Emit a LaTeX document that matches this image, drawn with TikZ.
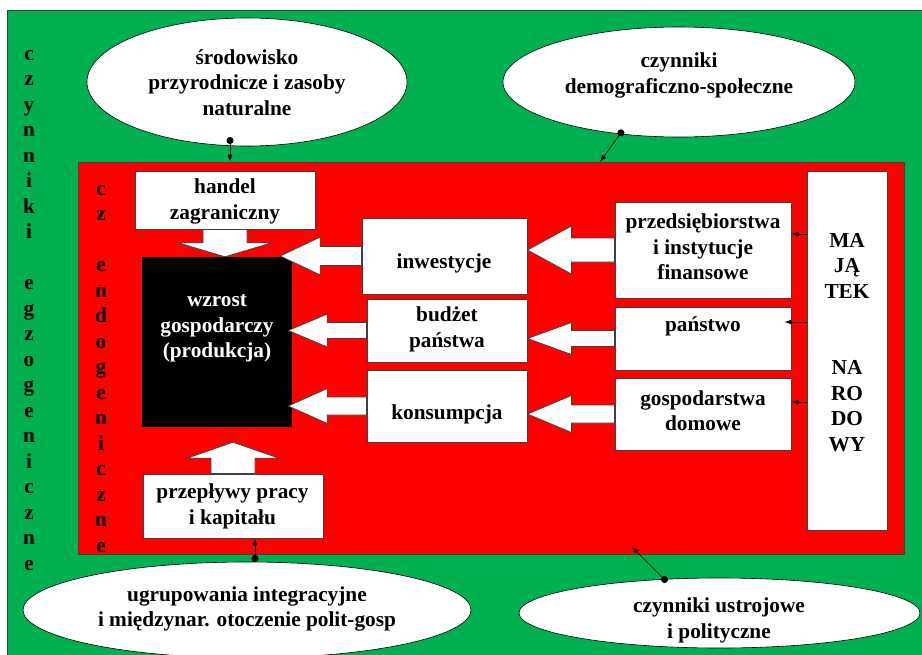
\documentclass[tikz,border=0pt]{standalone}
\usepackage{fontspec}
\setmainfont{Liberation Serif}
\usetikzlibrary{shapes.geometric,arrows.meta,calc}
\definecolor{exogreen}{RGB}{0,176,80}
\definecolor{endored}{RGB}{255,0,0}
\definecolor{edgegray}{RGB}{64,64,64}
\pgfdeclarelayer{back}
\pgfdeclarelayer{mid}
\pgfsetlayers{back,mid,main}
\newcommand\fsz{\fontsize{21.3}{25.5}\selectfont\bfseries}
% #1 start, #2 tip, #3 shaft half width, #4 head half width, #5 head length (canvas, signed)
\newcommand\myHarrow[5]{\draw[blockarrow] let \p1=(#1), \p2=(#2) in
  (\x1,\y1+#3pt) -- (\x2+#5pt,\y1+#3pt) -- (\x2+#5pt,\y1+#4pt) -- (\x2,\y1)
  -- (\x2+#5pt,\y1-#4pt) -- (\x2+#5pt,\y1-#3pt) -- (\x1,\y1-#3pt) -- cycle;}
\newcommand\myVarrow[5]{\draw[blockarrow] let \p1=(#1), \p2=(#2) in
  (\x1+#3pt,\y1) -- (\x1+#3pt,\y2+#5pt) -- (\x1+#4pt,\y2+#5pt) -- (\x1,\y2)
  -- (\x1-#4pt,\y2+#5pt) -- (\x1-#3pt,\y2+#5pt) -- (\x1-#3pt,\y1) -- cycle;}
\begin{document}
\begin{tikzpicture}[x=1pt,y=-1pt,
  txt/.style={font=\fsz, align=center, inner sep=0pt},
  wbox/.style={draw=edgegray, fill=white, line width=0.8pt, inner sep=0pt},
  oval/.style={ellipse, draw=black, fill=white, line width=0.6pt, inner sep=0pt},
  blockarrow/.style={draw=edgegray, fill=white, line width=0.8pt, line join=miter},
  conn/.style={line width=0.7pt, {Circle[length=7pt]}-{Latex[length=7pt,width=5pt]}},
  conn2/.style={line width=0.7pt, -{Latex[length=7pt,width=5pt]}}]

\useasboundingbox (0,0) rectangle (922,654);

\begin{pgfonlayer}{back}
\fill[white] (0,0) rectangle (922,654);
\node[fill=exogreen, draw=edgegray, line width=0.8pt, minimum width=923pt, minimum height=650pt, inner sep=0pt] (exo) at (468.5,335) {};
\node[fill=endored, draw=edgegray, line width=0.8pt, minimum width=826pt, minimum height=392pt, inner sep=0pt] (endo) at (491,358) {};
\node[fill=black, minimum width=150pt, minimum height=170pt, inner sep=0pt] (growth) at (217,342) {};
\end{pgfonlayer}

% vertical side labels
\node[txt, anchor=north] (exoT) at (29,50) {c\\z\\y\\n\\n\\i\\k\\i\\\mbox{}\\e\\g\\z\\o\\g\\e\\n\\i\\c\\z\\n\\e};
\node[txt, anchor=north] (endoT) at (101,185) {c\\z\\\mbox{}\\e\\n\\d\\o\\g\\e\\n\\i\\c\\z\\n\\e};

% boxes
\node[wbox, minimum width=180pt, minimum height=58pt] (handel) at (225,200) {};
\node[wbox, minimum width=165pt, minimum height=76pt] (inw) at (444.5,256) {};
\node[wbox, minimum width=160pt, minimum height=63pt] (bud) at (447,330.5) {};
\node[wbox, minimum width=160pt, minimum height=72pt] (kons) at (447,406) {};
\node[wbox, minimum width=176pt, minimum height=96pt] (przeds) at (703,250) {};
\node[wbox, minimum width=176pt, minimum height=63pt] (pan) at (703,338.5) {};
\node[wbox, minimum width=176pt, minimum height=72pt] (gosp) at (703,414) {};
\node[wbox, minimum width=80pt, minimum height=359pt] (maj) at (847,350.5) {};
\node[wbox, minimum width=180pt, minimum height=64pt] (przep) at (233,506) {};

% box texts
\node[txt] (handelT) at (225,201.5) {handel\\zagraniczny};
\node[txt, text=white] (growthT) at (217,328.7) {wzrost\\gospodarczy\\(produkcja)};
\node[txt] (inwT) at (444,263) {inwestycje};
\node[txt] (budT) at (447,329.5) {budżet\\państwa};
\node[txt] (konsT) at (447,414) {konsumpcja};
\node[txt] (przedsT) at (703,247) {przedsiębiorstwa\\i instytucje\\finansowe};
\node[txt] (panT) at (703,326) {państwo};
\node[txt] (gospT) at (703,410.5) {gospodarstwa\\domowe};
\node[txt] (przepT) at (232.5,506.5) {przepływy pracy\\i kapitału};
\node[txt, anchor=north] (majT) at (847,233) {MA\\JĄ\\TEK\\\mbox{}\\\mbox{}\\NA\\RO\\DO\\WY};

% ellipses
\node[oval, minimum width=320pt, minimum height=128pt] (e1) at (247,82) {};
\node[oval, minimum width=352pt, minimum height=110pt] (e2) at (679,82) {};
\node[oval, minimum width=448pt, minimum height=96pt] (e3) at (247,610) {};
\node[oval, minimum width=401pt, minimum height=70pt] (e4) at (719.5,613) {};
\node[txt] (e1T) at (247,82.3) {środowisko\\przyrodnicze i zasoby\\naturalne};
\node[txt] (e2T) at (679,75.5) {czynniki\\demograficzno-społeczne};
\node[txt] (e3T) at (247,609) {ugrupowania integracyjne\\i międzynar. otoczenie polit-gosp};
\node[txt] (e4T) at (719,620.5) {czynniki ustrojowe\\i polityczne};

% connectors from ellipses
\coordinate (d1) at (230,137);
\coordinate (d2) at (623,130);
\coordinate (t2) at (600,162);
\coordinate (d3) at (255,562);
\coordinate (d4) at (667,582);
\coordinate (t4) at (632,547);
\draw[conn] (d1) -- (d1 |- endo.north);
\draw[conn] (d2) -- (t2);
\draw[conn] (d3) -- (d3 |- przep.south);
\draw[conn] (d4) -- (t4);

% connectors from majatek
\coordinate (m1) at (0,234);
\coordinate (m2) at (0,322);
\coordinate (m3) at (0,402);
\draw[conn2] (maj.west |- m1) -- (przeds.east |- m1);
\draw[conn2] (maj.west |- m2) -- ($(pan.east |- m2)+(-7,0)$);
\draw[conn2] (maj.west |- m3) -- (gosp.east |- m3);

% block arrows
\begin{pgfonlayer}{mid}
\myHarrow{inw.west}{[xshift=-12pt]growth.east}{9.5}{19}{40}
\myHarrow{przeds.west}{inw.east}{12}{24}{44}
\myHarrow{bud.west}{[xshift=-4pt]growth.east}{8}{16.5}{39}
\myHarrow{pan.west}{bud.east}{8}{16}{44}
\myHarrow{kons.west}{[xshift=-4pt]growth.east}{9}{17.5}{39}
\myHarrow{gosp.west}{kons.east}{9}{18.5}{44}
\myVarrow{handel.south}{growth.north}{22}{47}{14}
\myVarrow{przep.north}{[yshift=-15pt]growth.south}{22}{46}{-16}
\end{pgfonlayer}
\end{tikzpicture}
\end{document}
